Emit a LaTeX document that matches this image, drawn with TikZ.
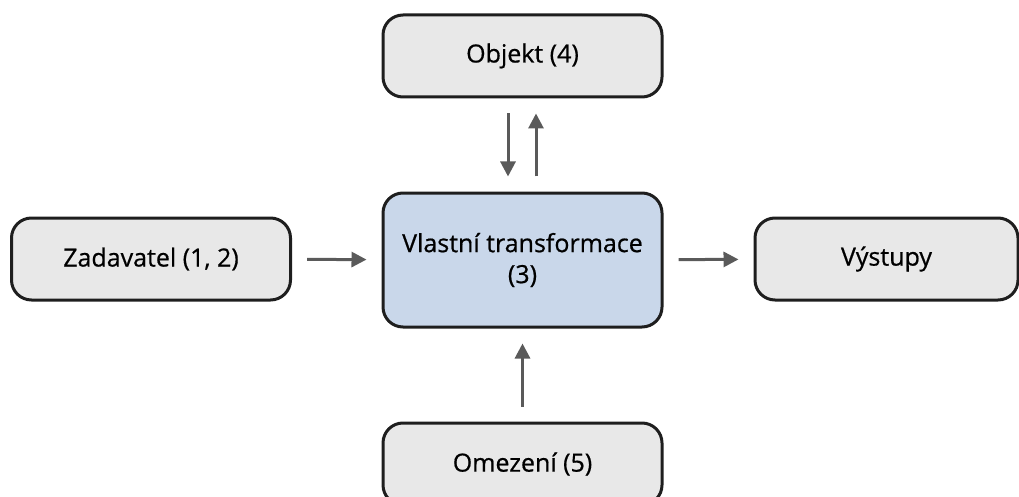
\documentclass[tikz,border=0pt]{standalone}
\usepackage{fontspec}
\setmainfont{Open Sans}[FakeBold=0.6]
\usetikzlibrary{arrows.meta}
\definecolor{boxgray}{RGB}{232,232,232}
\definecolor{boxblue}{RGB}{201,215,234}
\definecolor{boxline}{RGB}{30,30,30}
\definecolor{arrgray}{RGB}{90,90,90}

\begin{document}
\begin{tikzpicture}[x=1pt,y=-1pt,
  block/.style={draw=boxline,line width=3pt,fill=boxgray,rounded corners=20pt,
    minimum width=279pt,minimum height=82pt,align=center,
    font=\fontsize{25}{31}\selectfont},
  flow/.style={draw=arrgray,line width=3pt,-{Triangle[length=15pt,width=15pt]},
    shorten <=15pt,shorten >=15pt}]
  \clip (0,0) rectangle (1019,497);
  \node[block] (obj) at (522.5,56) {Objekt (4)};
  \node[block,fill=boxblue,minimum height=134pt] (core) at (522.5,260) {Vlastní transformace\\(3)};
  \node[block] (zad) at (151,259) {Zadavatel (1, 2)};
  \node[block,minimum width=263pt] (vys) at (886.5,259) {Výstupy};
  \node[block] (ome) at (522.5,464) {Omezení (5)};
  \draw[flow] (zad) -- (core);
  \draw[flow] (core) -- (vys);
  \draw[flow] ([xshift=-14.5pt]obj.south) -- ([xshift=-14.5pt]core.north);
  \draw[flow] ([xshift=13.5pt]core.north) -- ([xshift=13.5pt]obj.south);
  \draw[flow] (ome) -- (core);
\end{tikzpicture}
\end{document}
